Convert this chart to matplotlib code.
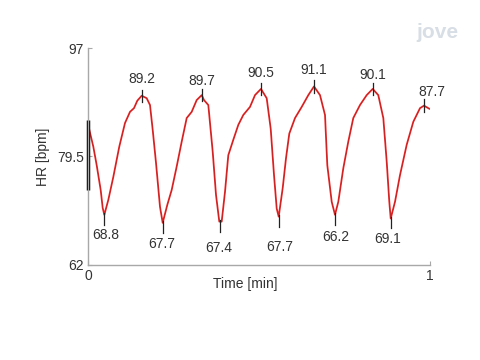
import matplotlib
matplotlib.use("Agg")
import matplotlib.pyplot as plt

plt.rcParams['font.family'] = ['Liberation Sans', 'DejaVu Sans']

# Heart-rate trace (time in minutes, HR in bpm)
time_min = [0.0, 0.0155, 0.0254, 0.0371, 0.0430, 0.0477, 0.0594, 0.0740, 0.0915, 0.1082,
            0.1228, 0.1345, 0.1442, 0.1570, 0.1716, 0.1813, 0.1892, 0.1988, 0.2105, 0.2184,
            0.2319, 0.2447, 0.2594, 0.2740, 0.2886, 0.3032, 0.3178, 0.3325, 0.3392, 0.3518,
            0.3646, 0.3743, 0.3839, 0.3909, 0.4006, 0.4102, 0.4249, 0.4395, 0.4541, 0.4737,
            0.4883, 0.5058, 0.5225, 0.5342, 0.5439, 0.5518, 0.5576, 0.5693, 0.5789, 0.5886,
            0.6053, 0.6249, 0.6442, 0.6608, 0.6784, 0.6930, 0.6997, 0.7126, 0.7222, 0.7319,
            0.7465, 0.7611, 0.7757, 0.7953, 0.8149, 0.8325, 0.8488, 0.8635, 0.8734, 0.8810,
            0.8851, 0.8977, 0.9123, 0.9319, 0.9512, 0.9708, 0.9825, 0.9980]
hr_bpm = [84.7, 81.1, 78.1, 74.1, 71.2, 70.1, 72.5, 76.2, 81.1, 84.9,
          86.7, 87.3, 88.5, 89.3, 88.9, 87.8, 83.8, 78.5, 71.4, 68.8,
          71.7, 74.1, 77.9, 81.9, 85.7, 86.7, 88.6, 89.4, 88.6, 87.8,
          80.3, 73.3, 69.0, 69.0, 73.8, 79.7, 82.2, 84.6, 86.2, 87.5,
          89.4, 90.4, 88.9, 84.0, 76.5, 71.1, 69.8, 74.4, 79.2, 83.2,
          85.7, 87.5, 89.4, 90.8, 89.4, 86.2, 78.1, 72.2, 70.1, 72.2,
          77.6, 81.9, 85.7, 87.8, 89.4, 90.4, 89.4, 85.7, 78.7, 72.2,
          69.5, 72.2, 76.5, 81.4, 85.1, 87.3, 87.7, 87.2]

# Marked extrema: time, curve value, label text
peak_t = [0.1570, 0.3325, 0.5058, 0.6608, 0.8325, 0.9825]
peak_v = [89.3, 89.4, 90.4, 90.8, 90.4, 87.7]
peak_labels = ["89.2", "89.7", "90.5", "91.1", "90.1", "87.7"]

trough_t = [0.0477, 0.2184, 0.3860, 0.5576, 0.7222, 0.8851]
trough_v = [70.1, 68.8, 69.0, 69.8, 70.1, 69.5]
trough_labels = ["68.8", "67.7", "67.4", "67.7", "66.2", "69.1"]

# label offsets in pixels (dx, dy)
peak_off = [(0, 17), (0, 14), (0, 16), (0, 16), (0, 14), (8, 14)]
trough_off = [(1, -20), (-1, -21), (-1, -26), (1, -30), (1, -22), (-3, -21)]

y_ticks = [62, 79.5, 97]
y_ticklabels = ["62", "79.5", "97"]
x_ticks = [0, 1]
x_ticklabels = ["0", "1"]
scale_bar = [74.1, 85.4]

fig = plt.figure(figsize=(4.8, 3.6), dpi=100)
ax = fig.add_axes([88/480, 95/360, 342/480, 217/360])
ax.set_xlim(0, 1)
ax.set_ylim(62, 97)

ax.plot(time_min, hr_bpm, color='#ee2a2a', lw=1.3, solid_joinstyle='round')
ax.plot(time_min, hr_bpm, color='#401010', lw=0.4, alpha=0.35)

u = 1.0
for t, v, lab, (dx, dy) in zip(peak_t, peak_v, peak_labels, peak_off):
    ax.plot([t, t], [v - u, v + u], color='#222222', lw=0.9)
    ax.annotate(lab, (t, v), xytext=(dx, dy), textcoords='offset pixels',
                ha='center', va='center', fontsize=10, color='#333333')
for t, v, lab, (dx, dy) in zip(trough_t, trough_v, trough_labels, trough_off):
    ax.plot([t, t], [v - 1.6, v + 0.3], color='#222222', lw=0.9)
    ax.annotate(lab, (t, v), xytext=(dx, dy), textcoords='offset pixels',
                ha='center', va='center', fontsize=10, color='#333333')

ax.plot([0, 0], scale_bar, color='black', lw=2.5, clip_on=False, solid_capstyle='butt')

for s in ['top', 'right']:
    ax.spines[s].set_visible(False)
for s in ['left', 'bottom']:
    ax.spines[s].set_color('#a8a8a8')
    ax.spines[s].set_linewidth(1.0)

ax.set_yticks(y_ticks)
ax.set_yticklabels(y_ticklabels)
ax.set_xticks(x_ticks)
ax.set_xticklabels(x_ticklabels)
ax.tick_params(direction='in', length=3, width=0.8, color='#a8a8a8',
               labelsize=10, labelcolor='#333333', pad=3)

ax.set_xlabel('Time [min]', fontsize=10, color='#333333')
ax.xaxis.set_label_coords(0.459, -0.056)
ax.set_ylabel('HR [bpm]', fontsize=10, color='#333333')
ax.yaxis.set_label_coords(-0.111, 0.5)

fig.text(437/480, 1 - 32/360, 'jove', fontsize=15, color='#d8dee5',
         ha='center', va='center', fontweight='bold')

fig.savefig('out.png', dpi=100)
